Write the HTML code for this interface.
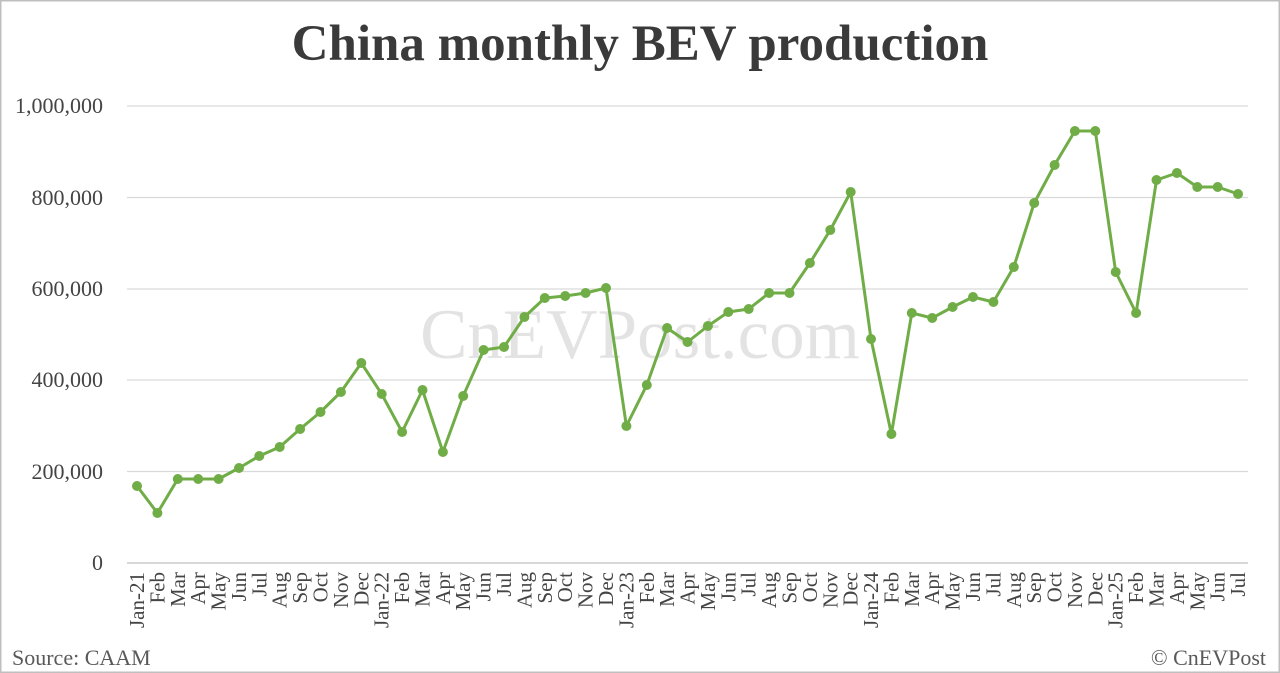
<!DOCTYPE html>
<html><head><meta charset="utf-8"><style>
html,body{margin:0;padding:0;background:#fff}
svg{display:block}
text{font-family:"Liberation Serif",serif}
</style></head><body>
<svg width="1280" height="673" viewBox="0 0 1280 673" xmlns="http://www.w3.org/2000/svg">
<rect x="0.5" y="0.5" width="1279" height="672" fill="#fff" stroke="#bfbfbf" stroke-width="2"/>
<text x="640" y="60" text-anchor="middle" font-size="51" font-weight="bold" fill="#3a3a3a">China monthly BEV production</text>
<g stroke="#d9d9d9" stroke-width="1.2">
<line x1="127" y1="106" x2="1248" y2="106"/><line x1="127" y1="197.5" x2="1248" y2="197.5"/><line x1="127" y1="289" x2="1248" y2="289"/><line x1="127" y1="380" x2="1248" y2="380"/><line x1="127" y1="471.5" x2="1248" y2="471.5"/>
</g>
<line x1="127" y1="563" x2="1248" y2="563" stroke="#bfbfbf" stroke-width="1.2"/>
<g font-size="22" fill="#444" text-anchor="end">
<text x="103" y="113">1,000,000</text><text x="103" y="205">800,000</text><text x="103" y="296">600,000</text><text x="103" y="387">400,000</text><text x="103" y="479">200,000</text><text x="103" y="570">0</text>
</g>
<text x="640" y="358" text-anchor="middle" font-size="71" fill="#d0d0d0" fill-opacity="0.6">CnEVPost.com</text>
<polyline fill="none" stroke="#70ad47" stroke-width="3" stroke-linejoin="round" points="137,486 157.4,513 177.8,479 198.2,479 218.6,479 239,468 259.3,456 279.7,447 300.1,429 320.5,412 340.9,392 361.3,363 381.7,394 402.1,432 422.5,390 442.9,452 463.2,396 483.6,350 504,347 524.4,317 544.8,298 565.2,296 585.6,293 606,288 626.4,426 646.8,385 667.1,328 687.5,342 707.9,326 728.3,312 748.7,309 769.1,293 789.5,293 809.9,263 830.3,230 850.7,192 871,339 891.4,434 911.8,313 932.2,318 952.6,307 973,297 993.4,302 1013.8,267 1034.2,203 1054.6,165 1074.9,131 1095.3,131 1115.7,272 1136.1,313 1156.5,180 1176.9,173 1197.3,187 1217.7,187 1238,194"/>
<g fill="#70ad47">
<circle cx="137" cy="486" r="5"/><circle cx="157.4" cy="513" r="5"/><circle cx="177.8" cy="479" r="5"/><circle cx="198.2" cy="479" r="5"/><circle cx="218.6" cy="479" r="5"/><circle cx="239" cy="468" r="5"/><circle cx="259.3" cy="456" r="5"/><circle cx="279.7" cy="447" r="5"/><circle cx="300.1" cy="429" r="5"/><circle cx="320.5" cy="412" r="5"/><circle cx="340.9" cy="392" r="5"/><circle cx="361.3" cy="363" r="5"/><circle cx="381.7" cy="394" r="5"/><circle cx="402.1" cy="432" r="5"/><circle cx="422.5" cy="390" r="5"/><circle cx="442.9" cy="452" r="5"/><circle cx="463.2" cy="396" r="5"/><circle cx="483.6" cy="350" r="5"/><circle cx="504" cy="347" r="5"/><circle cx="524.4" cy="317" r="5"/><circle cx="544.8" cy="298" r="5"/><circle cx="565.2" cy="296" r="5"/><circle cx="585.6" cy="293" r="5"/><circle cx="606" cy="288" r="5"/><circle cx="626.4" cy="426" r="5"/><circle cx="646.8" cy="385" r="5"/><circle cx="667.1" cy="328" r="5"/><circle cx="687.5" cy="342" r="5"/><circle cx="707.9" cy="326" r="5"/><circle cx="728.3" cy="312" r="5"/><circle cx="748.7" cy="309" r="5"/><circle cx="769.1" cy="293" r="5"/><circle cx="789.5" cy="293" r="5"/><circle cx="809.9" cy="263" r="5"/><circle cx="830.3" cy="230" r="5"/><circle cx="850.7" cy="192" r="5"/><circle cx="871" cy="339" r="5"/><circle cx="891.4" cy="434" r="5"/><circle cx="911.8" cy="313" r="5"/><circle cx="932.2" cy="318" r="5"/><circle cx="952.6" cy="307" r="5"/><circle cx="973" cy="297" r="5"/><circle cx="993.4" cy="302" r="5"/><circle cx="1013.8" cy="267" r="5"/><circle cx="1034.2" cy="203" r="5"/><circle cx="1054.6" cy="165" r="5"/><circle cx="1074.9" cy="131" r="5"/><circle cx="1095.3" cy="131" r="5"/><circle cx="1115.7" cy="272" r="5"/><circle cx="1136.1" cy="313" r="5"/><circle cx="1156.5" cy="180" r="5"/><circle cx="1176.9" cy="173" r="5"/><circle cx="1197.3" cy="187" r="5"/><circle cx="1217.7" cy="187" r="5"/><circle cx="1238" cy="194" r="5"/>
</g>
<g font-size="21" fill="#444" text-anchor="end">
<text transform="translate(144,572) rotate(-90)">Jan-21</text>
<text transform="translate(164.4,572) rotate(-90)">Feb</text>
<text transform="translate(184.8,572) rotate(-90)">Mar</text>
<text transform="translate(205.2,572) rotate(-90)">Apr</text>
<text transform="translate(225.6,572) rotate(-90)">May</text>
<text transform="translate(246,572) rotate(-90)">Jun</text>
<text transform="translate(266.3,572) rotate(-90)">Jul</text>
<text transform="translate(286.7,572) rotate(-90)">Aug</text>
<text transform="translate(307.1,572) rotate(-90)">Sep</text>
<text transform="translate(327.5,572) rotate(-90)">Oct</text>
<text transform="translate(347.9,572) rotate(-90)">Nov</text>
<text transform="translate(368.3,572) rotate(-90)">Dec</text>
<text transform="translate(388.7,572) rotate(-90)">Jan-22</text>
<text transform="translate(409.1,572) rotate(-90)">Feb</text>
<text transform="translate(429.5,572) rotate(-90)">Mar</text>
<text transform="translate(449.9,572) rotate(-90)">Apr</text>
<text transform="translate(470.2,572) rotate(-90)">May</text>
<text transform="translate(490.6,572) rotate(-90)">Jun</text>
<text transform="translate(511,572) rotate(-90)">Jul</text>
<text transform="translate(531.4,572) rotate(-90)">Aug</text>
<text transform="translate(551.8,572) rotate(-90)">Sep</text>
<text transform="translate(572.2,572) rotate(-90)">Oct</text>
<text transform="translate(592.6,572) rotate(-90)">Nov</text>
<text transform="translate(613,572) rotate(-90)">Dec</text>
<text transform="translate(633.4,572) rotate(-90)">Jan-23</text>
<text transform="translate(653.8,572) rotate(-90)">Feb</text>
<text transform="translate(674.1,572) rotate(-90)">Mar</text>
<text transform="translate(694.5,572) rotate(-90)">Apr</text>
<text transform="translate(714.9,572) rotate(-90)">May</text>
<text transform="translate(735.3,572) rotate(-90)">Jun</text>
<text transform="translate(755.7,572) rotate(-90)">Jul</text>
<text transform="translate(776.1,572) rotate(-90)">Aug</text>
<text transform="translate(796.5,572) rotate(-90)">Sep</text>
<text transform="translate(816.9,572) rotate(-90)">Oct</text>
<text transform="translate(837.3,572) rotate(-90)">Nov</text>
<text transform="translate(857.7,572) rotate(-90)">Dec</text>
<text transform="translate(878,572) rotate(-90)">Jan-24</text>
<text transform="translate(898.4,572) rotate(-90)">Feb</text>
<text transform="translate(918.8,572) rotate(-90)">Mar</text>
<text transform="translate(939.2,572) rotate(-90)">Apr</text>
<text transform="translate(959.6,572) rotate(-90)">May</text>
<text transform="translate(980,572) rotate(-90)">Jun</text>
<text transform="translate(1000.4,572) rotate(-90)">Jul</text>
<text transform="translate(1020.8,572) rotate(-90)">Aug</text>
<text transform="translate(1041.2,572) rotate(-90)">Sep</text>
<text transform="translate(1061.6,572) rotate(-90)">Oct</text>
<text transform="translate(1081.9,572) rotate(-90)">Nov</text>
<text transform="translate(1102.3,572) rotate(-90)">Dec</text>
<text transform="translate(1122.7,572) rotate(-90)">Jan-25</text>
<text transform="translate(1143.1,572) rotate(-90)">Feb</text>
<text transform="translate(1163.5,572) rotate(-90)">Mar</text>
<text transform="translate(1183.9,572) rotate(-90)">Apr</text>
<text transform="translate(1204.3,572) rotate(-90)">May</text>
<text transform="translate(1224.7,572) rotate(-90)">Jun</text>
<text transform="translate(1245,572) rotate(-90)">Jul</text>
</g>
<text x="12" y="665" font-size="22" fill="#595959">Source: CAAM</text>
<text x="1266" y="665" font-size="22" fill="#595959" text-anchor="end">© CnEVPost</text>
</svg>
</body></html>
